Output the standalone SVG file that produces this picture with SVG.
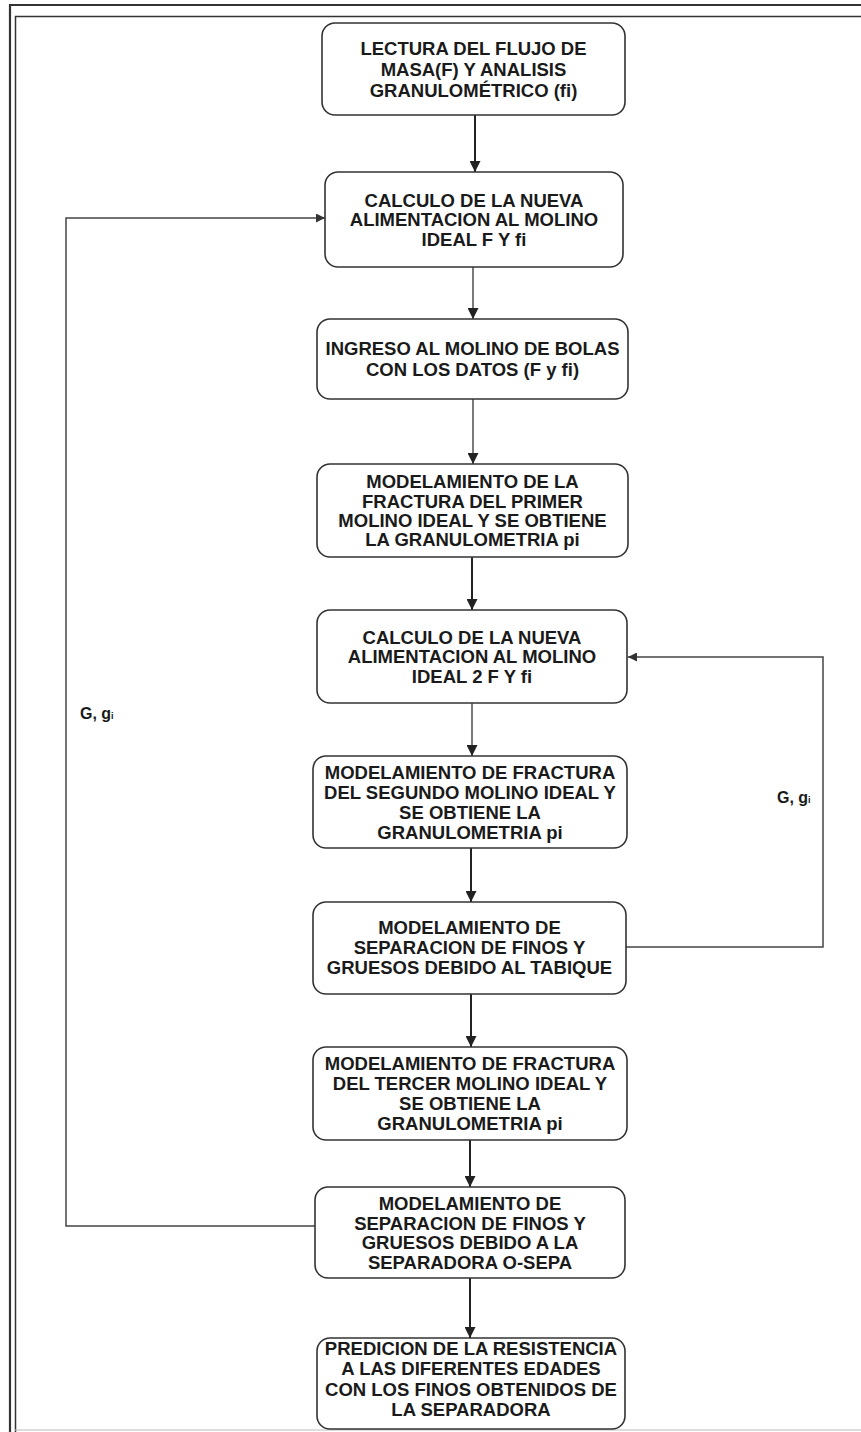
<svg xmlns="http://www.w3.org/2000/svg" width="861" height="1432" viewBox="0 0 861 1432">
<style>
.box{fill:#fff;stroke:#333;stroke-width:1.6}
.t{font-family:"Liberation Sans",Arial,sans-serif;font-size:18.5px;font-weight:bold;fill:#1a1a1a;text-anchor:middle}
.lbl{font-family:"Liberation Sans",Arial,sans-serif;font-size:16px;font-weight:bold;fill:#1a1a1a}
.c{fill:none;stroke:#222;stroke-width:2}
.cn{fill:none;stroke:#333;stroke-width:1.3}
.fb{fill:none;stroke:#444;stroke-width:1.5}
.frame{stroke:#333;fill:none}
</style>
<defs>
<marker id="ah" viewBox="0 0 10 10" refX="10" refY="5" markerWidth="11" markerHeight="11" markerUnits="userSpaceOnUse" orient="auto">
<path d="M0,0 L10,5 L0,10 z" fill="#222"/>
</marker>
<marker id="ahs" viewBox="0 0 10 10" refX="10" refY="5" markerWidth="9" markerHeight="9" markerUnits="userSpaceOnUse" orient="auto">
<path d="M0,0 L10,5 L0,10 z" fill="#333"/>
</marker>
</defs>
<rect width="861" height="1432" fill="#fff"/>
<g id="frame">
<line class="frame" x1="9" y1="5" x2="861" y2="5" stroke-width="2.2"/>
<line class="frame" x1="15" y1="16.5" x2="861" y2="16.5" stroke-width="1.5"/>
<line class="frame" x1="10" y1="4" x2="10" y2="1432" stroke-width="2.2"/>
<line class="frame" x1="15.5" y1="16" x2="15.5" y2="1432" stroke-width="1.5"/>
<line x1="15" y1="1430" x2="861" y2="1430" stroke="#bbb" stroke-width="1"/>
</g>
<g id="connectors">
<line class="c" x1="475" y1="115" x2="475" y2="172" marker-end="url(#ah)"/>
<line class="cn" x1="473" y1="267" x2="473" y2="319" marker-end="url(#ah)"/>
<line class="cn" x1="473" y1="399" x2="473" y2="464" marker-end="url(#ah)"/>
<line class="c" x1="472" y1="557" x2="472" y2="610" marker-end="url(#ah)"/>
<line class="cn" x1="472" y1="703" x2="472" y2="756" marker-end="url(#ah)"/>
<line class="c" x1="471" y1="848" x2="471" y2="902" marker-end="url(#ah)"/>
<line class="c" x1="471" y1="994" x2="471" y2="1047" marker-end="url(#ah)"/>
<line class="c" x1="470" y1="1140" x2="470" y2="1187" marker-end="url(#ah)"/>
<line class="c" x1="470" y1="1278" x2="470" y2="1338" marker-end="url(#ah)"/>
<polyline class="fb" points="626,947 823,947 823,657 628,657" marker-end="url(#ahs)"/>
<polyline class="fb" points="315,1226 66,1226 66,218 325,218" marker-end="url(#ahs)"/>
<text class="lbl" x="777" y="803">G, g<tspan font-size="9">i</tspan></text>
<text class="lbl" x="80" y="719">G, g<tspan font-size="9">i</tspan></text>
</g>
<g id="n1">
<rect class="box" x="322" y="23" width="303" height="92" rx="13"/>
<text class="t" x="473.5" y="54.5">LECTURA DEL FLUJO DE</text>
<text class="t" x="473.5" y="75.5">MASA(F) Y ANALISIS</text>
<text class="t" x="473.5" y="96.5">GRANULOMÉTRICO (fi)</text>
</g>
<g id="n2">
<rect class="box" x="325" y="172" width="298" height="95" rx="13"/>
<text class="t" x="474" y="206.5">CALCULO DE LA NUEVA</text>
<text class="t" x="474" y="226">ALIMENTACION AL MOLINO</text>
<text class="t" x="474" y="245.5">IDEAL F Y fi</text>
</g>
<g id="n3">
<rect class="box" x="317" y="319" width="311" height="80" rx="13"/>
<text class="t" x="472.5" y="355">INGRESO AL MOLINO DE BOLAS</text>
<text class="t" x="472.5" y="376">CON LOS DATOS (F y fi)</text>
</g>
<g id="n4">
<rect class="box" x="317" y="464" width="311" height="93" rx="13"/>
<text class="t" x="472.5" y="488">MODELAMIENTO DE LA</text>
<text class="t" x="472.5" y="508">FRACTURA DEL PRIMER</text>
<text class="t" x="472.5" y="527">MOLINO IDEAL Y SE OBTIENE</text>
<text class="t" x="472.5" y="546">LA GRANULOMETRIA pi</text>
</g>
<g id="n5">
<rect class="box" x="317" y="610" width="310" height="93" rx="13"/>
<text class="t" x="472" y="643.5">CALCULO DE LA NUEVA</text>
<text class="t" x="472" y="663">ALIMENTACION AL MOLINO</text>
<text class="t" x="472" y="682.5">IDEAL 2 F Y fi</text>
</g>
<g id="n6">
<rect class="box" x="313" y="756" width="314" height="92" rx="13"/>
<text class="t" x="470" y="778.5">MODELAMIENTO DE FRACTURA</text>
<text class="t" x="470" y="798.5">DEL SEGUNDO MOLINO IDEAL Y</text>
<text class="t" x="470" y="818.5">SE OBTIENE LA</text>
<text class="t" x="470" y="838.5">GRANULOMETRIA pi</text>
</g>
<g id="n7">
<rect class="box" x="313" y="902" width="313" height="92" rx="13"/>
<text class="t" x="469.5" y="933.5">MODELAMIENTO DE</text>
<text class="t" x="469.5" y="953.5">SEPARACION DE FINOS Y</text>
<text class="t" x="469.5" y="973.5">GRUESOS DEBIDO AL TABIQUE</text>
</g>
<g id="n8">
<rect class="box" x="313" y="1047" width="314" height="93" rx="13"/>
<text class="t" x="470" y="1070">MODELAMIENTO DE FRACTURA</text>
<text class="t" x="470" y="1090">DEL TERCER MOLINO IDEAL Y</text>
<text class="t" x="470" y="1110">SE OBTIENE LA</text>
<text class="t" x="470" y="1130">GRANULOMETRIA pi</text>
</g>
<g id="n9">
<rect class="box" x="315" y="1187" width="310" height="91" rx="13"/>
<text class="t" x="470" y="1209.5">MODELAMIENTO DE</text>
<text class="t" x="470" y="1229.5">SEPARACION DE FINOS Y</text>
<text class="t" x="470" y="1248.5">GRUESOS DEBIDO A LA</text>
<text class="t" x="470" y="1268.5">SEPARADORA O-SEPA</text>
</g>
<g id="n10">
<rect class="box" x="317" y="1338" width="308" height="91" rx="13"/>
<text class="t" x="471" y="1354.5">PREDICION DE LA RESISTENCIA</text>
<text class="t" x="471" y="1375">A LAS DIFERENTES EDADES</text>
<text class="t" x="471" y="1396">CON LOS FINOS OBTENIDOS DE</text>
<text class="t" x="471" y="1416">LA SEPARADORA</text>
</g>
</svg>
